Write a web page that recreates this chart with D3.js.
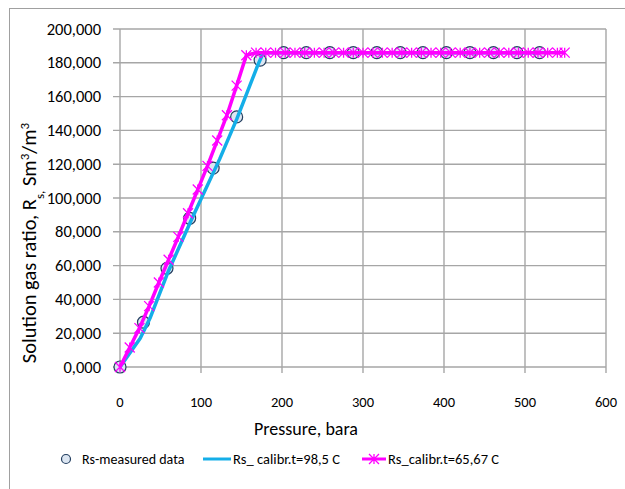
<!DOCTYPE html>
<html>
<head>
<style>
  body { margin: 0; background: #fff; }
  svg text { font-family: Carlito, Calibri, Lato, sans-serif; fill: #000; }
</style>
<script src="https://cdn.jsdelivr.net/npm/d3@7"></script>
</head>
<body>
<script>
// measured Rs
const measP  = [0, 29, 58, 86, 115, 144, 173, 202, 230, 259, 288, 317, 346, 374, 403, 432, 461, 490, 518];
const measRs = [0, 26500, 58400, 88000, 117700, 148000, 181600, 186000, 186000, 186000, 186000, 186000, 186000, 186000, 186000, 186000, 186000, 186000, 186000];

// calibrated t=98,5 C
const blueP  = [0, 25, 37, 49, 60, 90, 123, 144, 170, 177, 202, 259, 317, 374, 432, 490, 518];
const blueRs = [0, 17000, 28800, 43600, 57000, 89000, 123000, 146500, 178500, 186000, 186000, 186000, 186000, 186000, 186000, 186000, 186000];

// calibrated t=65,67 C
const pinkP  = [0, 12, 24, 36, 48, 60, 72, 84, 96, 108, 120, 132, 144, 156, 168, 180, 192, 204, 216, 228, 240,
                252, 264, 276, 288, 300, 312, 324, 336, 348, 360, 372, 384, 396, 408, 420, 432, 444, 456, 468,
                480, 492, 504, 516, 528, 540, 549];
const pinkRs = [0, 11500, 23000, 36000, 50000, 63500, 77000, 91000, 105000, 119000, 134000, 149000, 166500, 184500,
                186000, 186000, 186000, 186000, 186000, 186000, 186000, 186000, 186000, 186000, 186000, 186000,
                186000, 186000, 186000, 186000, 186000, 186000, 186000, 186000, 186000, 186000, 186000, 186000,
                186000, 186000, 186000, 186000, 186000, 186000, 186000, 186000, 186000];

const xTicks = [0, 100, 200, 300, 400, 500, 600];
const yTicks = [0, 20000, 40000, 60000, 80000, 100000, 120000, 140000, 160000, 180000, 200000];

const W = 625, H = 489;
const svg = d3.select("body").append("svg").attr("width", W).attr("height", H);

// outer frame, runs off the right and bottom
svg.append("rect").attr("x", 9.5).attr("y", 8.5).attr("width", 700).attr("height", 600)
  .attr("fill", "none").attr("stroke", "#a0a0a0").attr("stroke-width", 1);

const x = d3.scaleLinear().domain([0, 600]).range([120, 606]);
const y = d3.scaleLinear().domain([0, 200000]).range([367, 29]);

const grid = "#a6a6a6";

// gridlines + outside ticks
svg.append("g").selectAll("line").data(yTicks).enter().append("line")
  .attr("x1", 113).attr("x2", 606).attr("y1", d => y(d)).attr("y2", d => y(d))
  .attr("stroke", grid).attr("stroke-width", 1.4);
svg.append("g").selectAll("line").data(xTicks).enter().append("line")
  .attr("x1", d => x(d)).attr("x2", d => x(d)).attr("y1", 29).attr("y2", 373)
  .attr("stroke", grid).attr("stroke-width", 1.4);

svg.append("g").selectAll("text").data(yTicks).enter().append("text")
  .attr("x", 101).attr("y", d => y(d) + 5.5)
  .attr("text-anchor", "end").style("font-size", "16.5px")
  .text(d => d3.format(",")(d / 1000) + ",000");

svg.append("g").selectAll("text").data(xTicks).enter().append("text")
  .attr("x", d => x(d)).attr("y", 407)
  .attr("text-anchor", "middle").style("font-size", "14.5px")
  .text(d => d);

// axis titles
svg.append("text").attr("x", 306).attr("y", 435).attr("text-anchor", "middle")
  .style("font-size", "18px").text("Pressure, bara");

const yt = svg.append("text").attr("transform", "translate(36,243) rotate(-90)")
  .attr("text-anchor", "middle").style("font-size", "20.5px");
yt.append("tspan").text("Solution gas ratio, R");
yt.append("tspan").attr("baseline-shift", "sub").style("font-size", "13px").text("s,");
yt.append("tspan").text(" Sm");
yt.append("tspan").attr("baseline-shift", "super").style("font-size", "13px").text("3");
yt.append("tspan").text("/m");
yt.append("tspan").attr("baseline-shift", "super").style("font-size", "13px").text("3");

// series
const blue = "#14aee8", pink = "#ff00ff";
const line = d3.line().x(d => x(d[0])).y(d => y(d[1]));

svg.append("g").selectAll("circle").data(d3.zip(measP, measRs)).enter().append("circle")
  .attr("cx", d => x(d[0])).attr("cy", d => y(d[1])).attr("r", 6)
  .attr("fill", "#dce6f2").attr("stroke", "#243f60").attr("stroke-width", 1.2);

svg.append("path").datum(d3.zip(blueP, blueRs)).attr("d", line)
  .attr("fill", "none").attr("stroke", blue).attr("stroke-width", 3.5).attr("stroke-linejoin", "round");

svg.append("path").datum(d3.zip(pinkP, pinkRs)).attr("d", line)
  .attr("fill", "none").attr("stroke", pink).attr("stroke-width", 3.5).attr("stroke-linejoin", "round");

function star(g, cx, cy) {
  const s = 5;
  g.append("path")
    .attr("d", `M${cx - s},${cy - s}L${cx + s},${cy + s}M${cx - s},${cy + s}L${cx + s},${cy - s}M${cx},${cy - s}L${cx},${cy + s}`)
    .attr("stroke", pink).attr("stroke-width", 1.3).attr("fill", "none");
}
const mk = svg.append("g");
d3.zip(pinkP, pinkRs).forEach(d => star(mk, x(d[0]), y(d[1])));

// legend
const lg = svg.append("g");
const ly = 459;
lg.append("circle").attr("cx", 66).attr("cy", ly).attr("r", 4.5)
  .attr("fill", "#dce6f2").attr("stroke", "#243f60").attr("stroke-width", 1.2);
lg.append("text").attr("x", 82).attr("y", ly + 5).style("font-size", "14px").text("Rs-measured data");
lg.append("line").attr("x1", 203).attr("x2", 231).attr("y1", ly).attr("y2", ly)
  .attr("stroke", blue).attr("stroke-width", 3);
lg.append("text").attr("x", 233).attr("y", ly + 5).style("font-size", "14.5px").text("Rs_ calibr.t=98,5 C");
lg.append("line").attr("x1", 362).attr("x2", 386).attr("y1", ly).attr("y2", ly)
  .attr("stroke", pink).attr("stroke-width", 3);
star(lg, 374, ly);
lg.append("text").attr("x", 388).attr("y", ly + 5).style("font-size", "14.5px").text("Rs_calibr.t=65,67 C");
</script>
</body>
</html>
